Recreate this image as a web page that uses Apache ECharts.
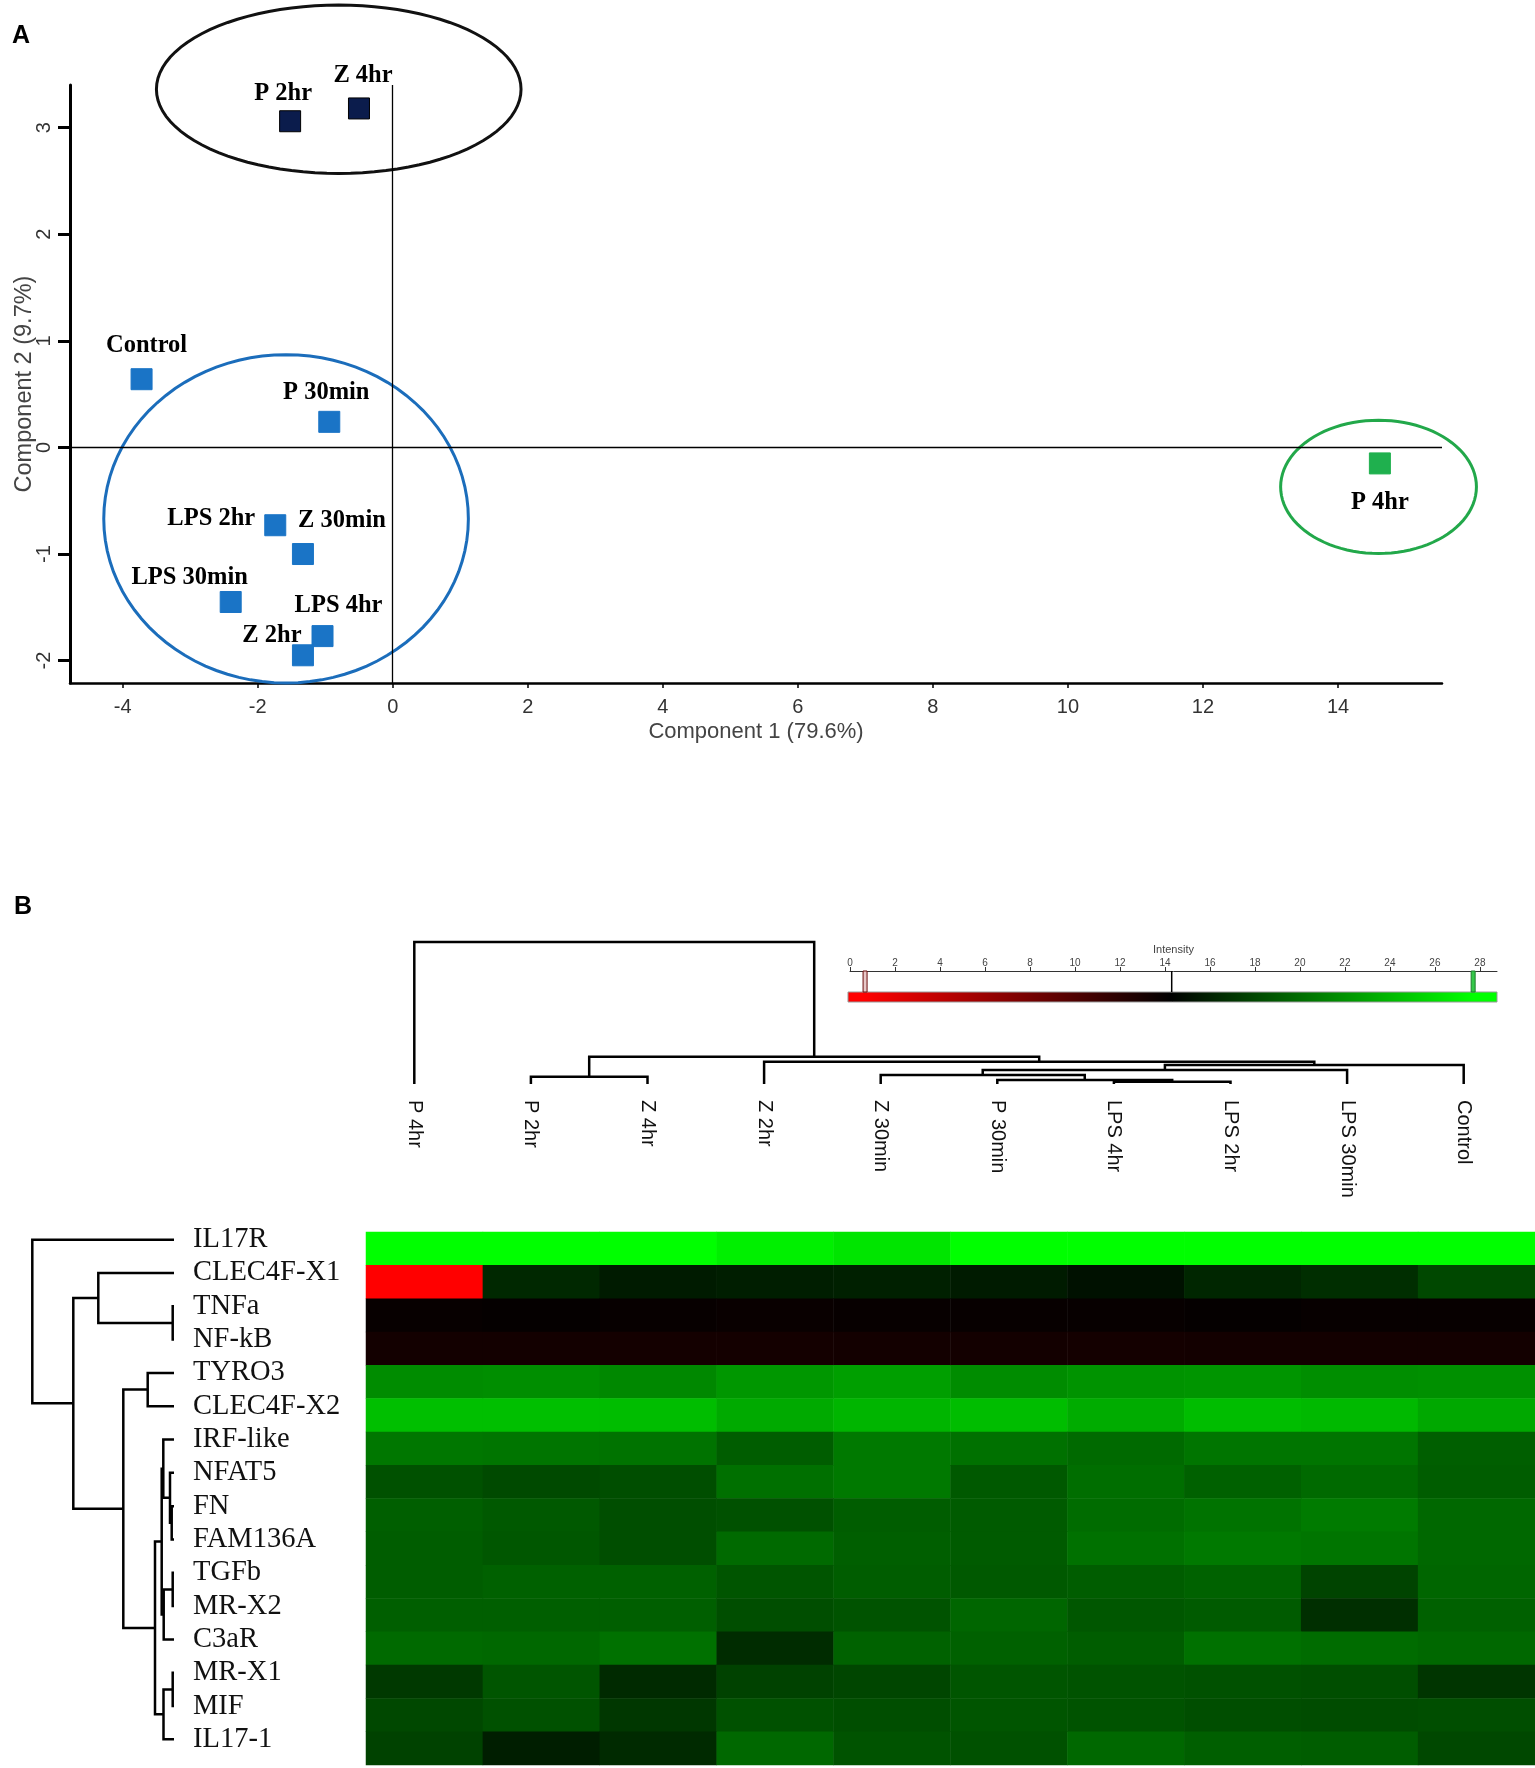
<!DOCTYPE html>
<html>
<head>
<meta charset="utf-8">
<script src="https://cdn.jsdelivr.net/npm/echarts@6/dist/echarts.min.js"></script>
<style>
html, body { margin: 0; padding: 0; background: #fff; }
#chart { width: 1535px; height: 1768px; }
</style>
</head>
<body>
<div id="chart"></div>
<script>
// ---- Panel A: PCA scores ----
const sampleNames = ['P 2hr', 'Z 4hr', 'Control', 'P 30min', 'LPS 2hr', 'Z 30min', 'LPS 30min', 'LPS 4hr', 'Z 2hr', 'P 4hr'];
const comp1 = [-1.52, -0.50, -3.72, -0.94, -1.74, -1.33, -2.40, -1.04, -1.33, 14.62];
const comp2 = [3.06, 3.18, 0.64, 0.24, -0.73, -1.00, -1.45, -1.77, -1.95, -0.15];
const sampleGroup = [0, 0, 1, 1, 1, 1, 1, 1, 1, 2];
const xTicks = [-4, -2, 0, 2, 4, 6, 8, 10, 12, 14];
const yTicks = [-2, -1, 0, 1, 2, 3];

// cluster ellipses (data units)
const ellipseCx = [-0.80, -1.58, 14.60];
const ellipseCy = [3.36, -0.67, -0.37];
const ellipseRx = [2.70, 2.70, 1.45];
const ellipseRy = [0.79, 1.54, 0.625];

// ---- Panel B: heatmap ----
const colNames = ['P 4hr', 'P 2hr', 'Z 4hr', 'Z 2hr', 'Z 30min', 'P 30min', 'LPS 4hr', 'LPS 2hr', 'LPS 30min', 'Control'];
const geneNames = ['IL17R', 'CLEC4F-X1', 'TNFa', 'NF-kB', 'TYRO3', 'CLEC4F-X2', 'IRF-like', 'NFAT5',
    'FN', 'FAM136A', 'TGFb', 'MR-X2', 'C3aR', 'MR-X1', 'MIF', 'IL17-1'];

const IL17R     = [28.0, 28.0, 28.0, 26.9, 26.3, 28.0, 28.0, 28.0, 28.0, 28.0];
const CLEC4F_X1 = [0.5, 16.3, 15.6, 15.8, 15.9, 15.6, 15.1, 16.2, 16.6, 18.0];
const TNFa      = [13.8, 13.9, 13.8, 13.7, 13.8, 13.8, 13.8, 13.9, 13.8, 13.8];
const NF_kB     = [13.2, 13.2, 13.1, 13.1, 13.2, 13.2, 13.1, 13.2, 13.2, 13.2];
const TYRO3     = [21.6, 21.7, 21.4, 22.2, 22.6, 21.6, 22.0, 22.1, 21.7, 21.8];
const CLEC4F_X2 = [24.3, 24.3, 24.2, 23.2, 23.8, 24.2, 23.3, 24.2, 24.0, 23.1];
const IRF_like  = [20.5, 20.4, 20.3, 19.1, 20.6, 20.2, 19.8, 20.4, 20.4, 19.2];
const NFAT5     = [18.5, 18.1, 18.3, 20.1, 20.6, 18.9, 20.0, 19.3, 19.8, 19.1];
const FN        = [19.2, 18.9, 18.3, 18.5, 19.1, 19.0, 19.9, 20.3, 20.7, 19.7];
const FAM136A   = [19.1, 18.8, 18.3, 19.8, 19.2, 19.0, 20.2, 20.6, 20.4, 19.7];
const TGFb      = [19.1, 19.3, 19.3, 18.7, 19.1, 18.9, 19.1, 19.4, 17.8, 19.6];
const MR_X2     = [19.2, 19.2, 19.2, 18.3, 18.6, 19.6, 18.8, 19.0, 16.7, 19.3];
const C3aR      = [19.8, 19.7, 20.2, 16.5, 19.4, 19.3, 19.1, 20.2, 19.9, 19.7];
const MR_X1     = [17.2, 18.7, 16.4, 17.7, 17.9, 18.7, 18.6, 18.5, 18.3, 17.0];
const MIF       = [18.0, 18.5, 17.1, 18.5, 18.3, 18.7, 18.6, 18.3, 18.2, 18.3];
const IL17_1    = [17.7, 15.8, 16.4, 19.7, 18.6, 18.5, 19.7, 19.2, 19.1, 18.0];

// column tree: ids 0-9 are samples, id 10+k is merge k
const colLinkLeft   = [6, 5, 4, 12, 13, 3, 1, 16, 0];
const colLinkRight  = [7, 10, 11, 8, 9, 14, 2, 15, 17];
const colLinkHeight = [2.3, 4, 9, 14, 19, 22.3, 7.3, 27.3, 142];

// row tree: ids 0-15 are genes, id 16+k is merge k
const rowLinkLeft   = [2, 1, 4, 8, 7, 6, 10, 22, 21, 13, 25, 24, 18, 17, 0];
const rowLinkRight  = [3, 16, 5, 9, 19, 20, 11, 12, 23, 14, 15, 26, 27, 28, 29];
const rowLinkHeight = [1.3, 75.7, 26.3, 2.3, 4, 10.7, 1.3, 10.3, 12.3, 1.3, 10.5, 19, 50.7, 100.7, 141.7];

// intensity colour scale
const scaleMarks = [0.67, 14.3, 27.7];
const scaleMax = 28.76;

const heatRows = [IL17R, CLEC4F_X1, TNFa, NF_kB, TYRO3, CLEC4F_X2, IRF_like, NFAT5,
    FN, FAM136A, TGFb, MR_X2, C3aR, MR_X1, MIF, IL17_1];

const SERIF = '"Liberation Serif", "Times New Roman", serif';
const SANS = '"Liberation Sans", Arial, sans-serif';
const groupColors = ['#0b1c4c', '#1a74c6', '#1fb04e'];
const groupBorders = ['#000', '#1a74c6', '#1fb04e'];
const ellipseColors = ['#111', '#1b6dbb', '#22a84a'];
const markStroke = ['#6a0a0a', '#000', '#1d7f2c'];
const markFill = ['#e8c8c8', '#000', '#35c84a'];
const labelOffset = {
    'P 2hr': [-7, -28], 'Z 4hr': [4, -33], 'Control': [5, -34], 'P 30min': [-3, -29],
    'LPS 2hr': [-64, -7], 'Z 30min': [39, -33], 'LPS 30min': [-41, -24],
    'LPS 4hr': [16, -30], 'Z 2hr': [-31, -20], 'P 4hr': [0, 39]
};

function treeLayout(nLeaves, linkLeft, linkRight, linkHeight) {
    const pos = [], hgt = [];
    for (let i = 0; i < nLeaves; i++) { pos.push(i + 0.5); hgt.push(0); }
    for (let k = 0; k < linkLeft.length; k++) {
        pos.push((pos[linkLeft[k]] + pos[linkRight[k]]) / 2);
        hgt.push(linkHeight[k]);
    }
    return { pos, hgt };
}
const colTree = treeLayout(colNames.length, colLinkLeft, colLinkRight, colLinkHeight);
const rowTree = treeLayout(geneNames.length, rowLinkLeft, rowLinkRight, rowLinkHeight);

const scatterData = sampleNames.map((name, i) => ({
    name: name,
    value: [comp1[i], comp2[i]],
    itemStyle: { color: groupColors[sampleGroup[i]], borderColor: groupBorders[sampleGroup[i]], borderWidth: 1, opacity: 1 },
    label: { offset: labelOffset[name] }
}));

const heatData = [];
heatRows.forEach((row, r) => row.forEach((v, c) => heatData.push([c, r, v])));

const chart = echarts.init(document.getElementById('chart'));

const options = {
    backgroundColor: '#fff',
    animation: false,
    graphic: [
        { type: 'text', left: 12, top: 24, style: { text: 'A', font: 'bold 25px ' + SANS, fill: '#000' } },
        { type: 'text', left: 14, top: 895, style: { text: 'B', font: 'bold 25px ' + SANS, fill: '#000' } }
    ],
    grid: [
        { left: 70, top: 85, width: 1372, height: 598, outerBoundsMode: 'none' },
        { left: 356, top: 942, width: 1166, height: 142, outerBoundsMode: 'none' },
        { left: 850, top: 971, width: 647, height: 31, outerBoundsMode: 'none' },
        { left: 32, top: 1223, width: 142, height: 533, outerBoundsMode: 'none' },
        { left: 366, top: 1232, right: 0, height: 533, outerBoundsMode: 'none' }
    ],
    xAxis: [
        {
            gridIndex: 0, type: 'value', min: -4.78, max: 15.54,
            splitLine: { show: false },
            axisLine: { onZero: false, lineStyle: { color: '#000', width: 2.5 } },
            axisTick: { customValues: xTicks, length: 5, lineStyle: { color: '#000', width: 1.5 } },
            axisLabel: { customValues: xTicks, fontSize: 20, color: '#333', fontFamily: SANS, margin: 14 },
            name: 'Component 1 (79.6%)', nameLocation: 'middle', nameGap: 38, nameMoveOverlap: false,
            nameTextStyle: { fontSize: 22, color: '#444', fontFamily: SANS }
        },
        { gridIndex: 1, type: 'value', min: 0, max: 10, show: false },
        {
            gridIndex: 1, type: 'category', data: colNames, position: 'bottom',
            axisLine: { show: false }, axisTick: { show: false },
            axisLabel: { interval: 0, rotate: -90, margin: 16, fontSize: 20, color: '#111', fontFamily: SANS }
        },
        {
            gridIndex: 2, type: 'value', min: 0, max: scaleMax, interval: 2, position: 'top',
            splitLine: { show: false },
            axisLine: { onZero: false, lineStyle: { color: '#333', width: 1 } },
            axisTick: { length: 4, lineStyle: { color: '#333' } },
            axisLabel: { fontSize: 10, color: '#444', fontFamily: SANS, margin: 3 },
            name: 'Intensity', nameLocation: 'middle', nameGap: 16, nameMoveOverlap: false,
            nameTextStyle: { fontSize: 11, color: '#444', fontFamily: SANS }
        },
        { gridIndex: 3, type: 'value', min: 0, max: 142, inverse: true, show: false },
        { gridIndex: 4, type: 'category', data: colNames, show: false }
    ],
    yAxis: [
        {
            gridIndex: 0, type: 'value', min: -2.21, max: 3.40,
            splitLine: { show: false },
            axisLine: { onZero: false, lineStyle: { color: '#000', width: 3 } },
            axisTick: { customValues: yTicks, length: 12, lineStyle: { color: '#000', width: 3 } },
            axisLabel: { customValues: yTicks, rotate: 90, fontSize: 20, color: '#333', fontFamily: SANS, margin: 16 },
            name: 'Component 2 (9.7%)', nameLocation: 'middle', nameGap: 33, nameMoveOverlap: false,
            nameTextStyle: { fontSize: 23.5, color: '#444', fontFamily: SANS }
        },
        { gridIndex: 1, type: 'value', min: 0, max: 142, show: false },
        { gridIndex: 2, type: 'value', min: 0, max: 31, show: false },
        { gridIndex: 3, type: 'value', min: 0, max: geneNames.length, inverse: true, show: false },
        {
            gridIndex: 3, type: 'category', data: geneNames, inverse: true, position: 'right',
            axisLine: { show: false }, axisTick: { show: false },
            axisLabel: { interval: 0, margin: 19, fontSize: 28.5, color: '#111', fontFamily: SERIF }
        },
        { gridIndex: 4, type: 'category', data: geneNames, inverse: true, show: false }
    ],
    visualMap: {
        type: 'continuous', show: false, seriesIndex: 5, dimension: 2,
        min: scaleMarks[0], max: scaleMarks[2],
        inRange: { color: ['#ff0000', '#000000', '#00ff00'] }
    },
    series: [
        {
            // cluster ellipses
            type: 'custom', xAxisIndex: 0, yAxisIndex: 0, clip: false, silent: true, z: 1,
            data: ellipseCx.map((cx, i) => [cx, ellipseCy[i], i]),
            renderItem: function (params, api) {
                const i = api.value(2);
                const pts = [];
                for (let t = 0; t <= 96; t++) {
                    const a = t / 96 * Math.PI * 2;
                    pts.push(api.coord([ellipseCx[i] + ellipseRx[i] * Math.cos(a), ellipseCy[i] + ellipseRy[i] * Math.sin(a)]));
                }
                return { type: 'polygon', shape: { points: pts }, style: { fill: 'none', stroke: ellipseColors[i], lineWidth: 3 } };
            }
        },
        {
            type: 'scatter', xAxisIndex: 0, yAxisIndex: 0, symbol: 'rect', symbolSize: 21, z: 3,
            data: scatterData,
            label: {
                show: true, position: 'inside', formatter: '{b}',
                fontFamily: SERIF, fontWeight: 'bold', fontSize: 24.5, color: '#000'
            },
            markLine: {
                silent: true, symbol: ['none', 'none'], label: { show: false },
                lineStyle: { color: '#000', width: 1.3, type: 'solid' },
                data: [{ xAxis: 0 }, { yAxis: 0 }]
            }
        },
        {
            // sample dendrogram
            type: 'custom', xAxisIndex: 1, yAxisIndex: 1, clip: false, silent: true,
            data: colLinkHeight.map((h, k) => [k, h]),
            renderItem: function (params, api) {
                const k = api.value(0);
                const a = colLinkLeft[k], b = colLinkRight[k], h = colLinkHeight[k];
                return {
                    type: 'polyline',
                    shape: { points: [
                        api.coord([colTree.pos[a], colTree.hgt[a]]),
                        api.coord([colTree.pos[a], h]),
                        api.coord([colTree.pos[b], h]),
                        api.coord([colTree.pos[b], colTree.hgt[b]])
                    ] },
                    style: { fill: 'none', stroke: '#000', lineWidth: 2.5 }
                };
            }
        },
        {
            // intensity colour bar and markers
            type: 'custom', xAxisIndex: 3, yAxisIndex: 2, clip: false, silent: true,
            data: [[0, 0]],
            renderItem: function (params, api) {
                const p0 = api.coord([0, 10]);
                const p1 = api.coord([scaleMax, 0]);
                const children = [{
                    type: 'rect',
                    shape: { x: p0[0] - 2, y: p0[1], width: p1[0] - p0[0] + 2, height: p1[1] - p0[1] },
                    style: {
                        stroke: '#999', lineWidth: 1,
                        fill: {
                            type: 'linear', x: 0, y: 0, x2: 1, y2: 0,
                            colorStops: [
                                { offset: 0, color: '#ff0000' },
                                { offset: scaleMarks[0] / scaleMax, color: '#ff0000' },
                                { offset: scaleMarks[1] / scaleMax, color: '#000000' },
                                { offset: scaleMarks[2] / scaleMax, color: '#00ff00' },
                                { offset: 1, color: '#00ff00' }
                            ]
                        }
                    }
                }];
                scaleMarks.forEach((m, i) => {
                    const top = api.coord([m, 31]);
                    const bot = api.coord([m, 10]);
                    const w = i === 1 ? 1.5 : 4;
                    children.push({
                        type: 'rect',
                        shape: { x: top[0] - w / 2, y: top[1], width: w, height: bot[1] - top[1] },
                        style: { fill: markFill[i], stroke: markStroke[i], lineWidth: i === 1 ? 0 : 1 }
                    });
                });
                return { type: 'group', children: children };
            }
        },
        {
            // gene dendrogram
            type: 'custom', xAxisIndex: 4, yAxisIndex: 3, clip: false, silent: true,
            data: rowLinkHeight.map((h, k) => [h, k]),
            renderItem: function (params, api) {
                const k = params.dataIndex;
                const a = rowLinkLeft[k], b = rowLinkRight[k], h = rowLinkHeight[k];
                return {
                    type: 'polyline',
                    shape: { points: [
                        api.coord([rowTree.hgt[a], rowTree.pos[a]]),
                        api.coord([h, rowTree.pos[a]]),
                        api.coord([h, rowTree.pos[b]]),
                        api.coord([rowTree.hgt[b], rowTree.pos[b]])
                    ] },
                    style: { fill: 'none', stroke: '#000', lineWidth: 2.5 }
                };
            }
        },
        {
            type: 'heatmap', xAxisIndex: 5, yAxisIndex: 5,
            data: heatData,
            itemStyle: { borderWidth: 0 },
            emphasis: { disabled: true }
        }
    ]
};

chart.setOption(options);
</script>
</body>
</html>
